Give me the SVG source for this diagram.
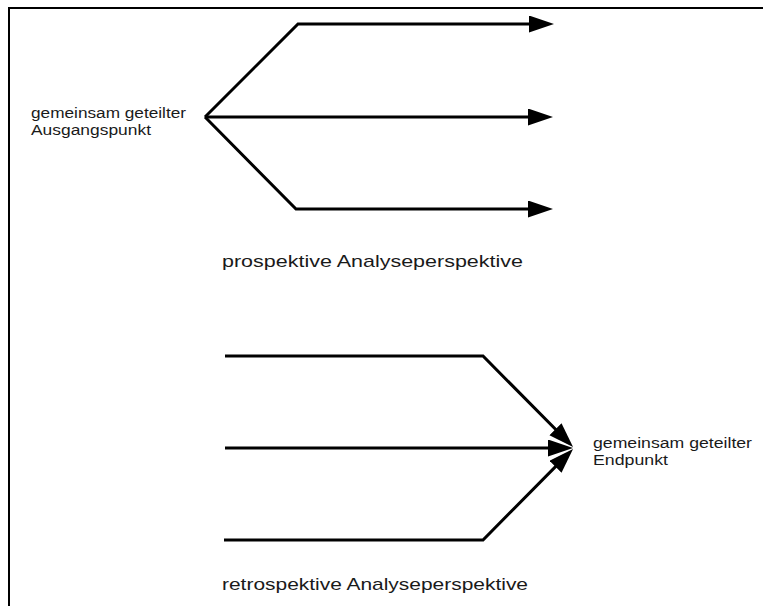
<svg xmlns="http://www.w3.org/2000/svg" width="763" height="606" viewBox="0 0 763 606">
<style>
.t{font-family:"Liberation Sans",Arial,sans-serif;fill:#1a1a1a;}
.s{font-size:14px;}
.b{font-size:17px;}
.ln{fill:none;stroke:#000;stroke-width:3;stroke-linejoin:miter;marker-end:url(#arr);}
</style>
<defs>
<marker id="arr" markerUnits="userSpaceOnUse" markerWidth="26" markerHeight="18" viewBox="0 0 26 18" refX="11" refY="8.5" orient="auto">
<path d="M0,0 L25,8.5 L0,17 z" fill="#000"/>
</marker>
</defs>
<rect x="9" y="8" width="800" height="700" fill="#fff" stroke="#000" stroke-width="2"/>
<g id="start-label">
<text class="t s" x="31" y="118" textLength="155" lengthAdjust="spacingAndGlyphs">gemeinsam geteilter</text>
<text class="t s" x="31" y="135" textLength="120" lengthAdjust="spacingAndGlyphs">Ausgangspunkt</text>
</g>
<g id="end-label">
<text class="t s" x="593" y="448" textLength="159" lengthAdjust="spacingAndGlyphs">gemeinsam geteilter</text>
<text class="t s" x="593" y="465" textLength="75" lengthAdjust="spacingAndGlyphs">Endpunkt</text>
</g>
<g id="prospective-title">
<text class="t b" x="222" y="267" textLength="301" lengthAdjust="spacingAndGlyphs">prospektive Analyseperspektive</text>
</g>
<g id="retrospective-title">
<text class="t b" x="222" y="590" textLength="306" lengthAdjust="spacingAndGlyphs">retrospektive Analyseperspektive</text>
</g>
<g id="connectors">
<path class="ln" d="M205,117 L298,24 L540,24"/>
<path class="ln" d="M205,117 L539,117"/>
<path class="ln" d="M205,117 L296,209 L539,209"/>
<path class="ln" d="M225,356 L483,356 L563.2,437"/>
<path class="ln" d="M225,448 L559,448"/>
<path class="ln" d="M224,540 L483,540 L563.2,458.9"/>
</g>
</svg>
